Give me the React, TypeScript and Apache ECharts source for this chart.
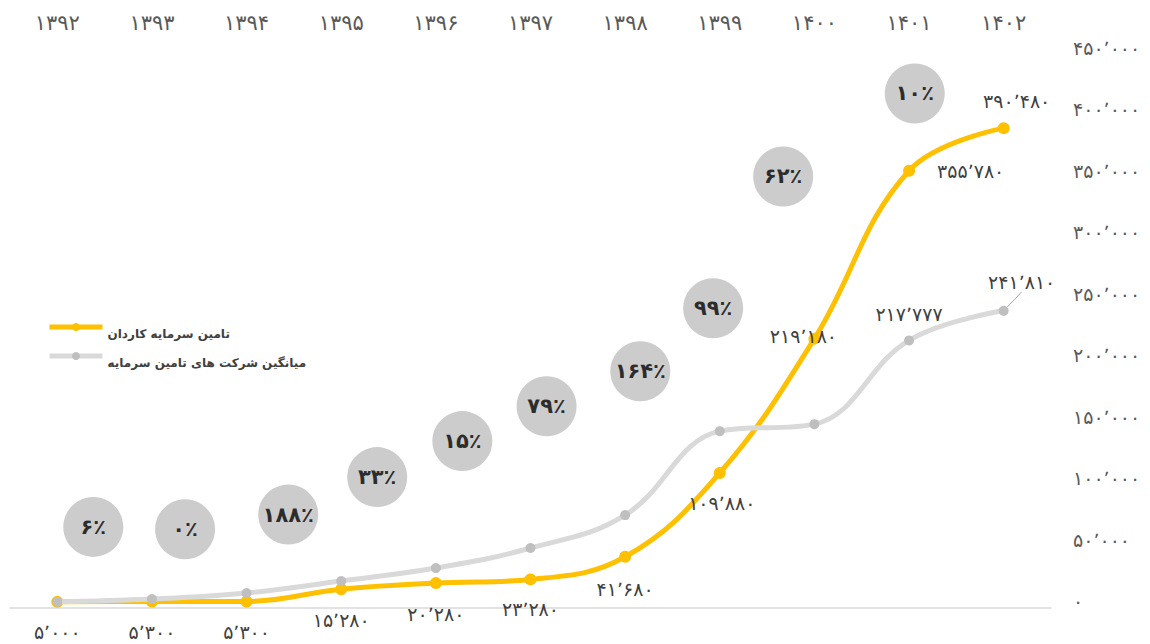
import React, { useEffect, useRef } from 'react';
import * as echarts from 'echarts';

const FONT = '"DejaVu Sans", "Noto Sans", sans-serif';

const years = ['۱۳۹۲', '۱۳۹۳', '۱۳۹۴', '۱۳۹۵', '۱۳۹۶', '۱۳۹۷', '۱۳۹۸', '۱۳۹۹', '۱۴۰۰', '۱۴۰۱', '۱۴۰۲'];
const kardanName = 'تامین سرمایه کاردان';
const averageName = 'میانگین شرکت های تامین سرمایه';
const kardanValues = [5000, 5300, 5300, 15280, 20280, 23280, 41680, 109880, 219180, 355780, 390480];
const averageValues = [5000, 7300, 12200, 22000, 32500, 48800, 75600, 143900, 149600, 217777, 241810];
const growthPercents = [6, 0, 188, 33, 15, 79, 164, 99, 62, 10];
const yMin = 0;
const yMax = 450000;
const yInterval = 50000;

// annotation anchors for the growth bubbles: [category position, value]
const bubbleAnchors = [
  [0.38, 66000], [1.35, 64000], [2.44, 76000], [3.38, 106500], [4.28, 135800],
  [5.17, 164200], [6.16, 192700], [6.93, 243900], [7.67, 351200], [9.06, 418700],
];

const toFa = (s: string) => s.replace(/\d/g, (d) => '۰۱۲۳۴۵۶۷۸۹'[+d]);
const fmt = (v: number) => toFa(String(v).replace(/\B(?=(\d{3})+(?!\d))/g, '٬'));

const labelBase = { show: true, color: '#404040', fontSize: 19, fontFamily: FONT, formatter: (p: any) => fmt(p.value) };

const kardanLabels: any[] = [
  { position: 'bottom', distance: 15 },
  { position: 'bottom', distance: 15 },
  { position: 'bottom', distance: 15 },
  { position: 'bottom', distance: 15 },
  { position: 'bottom', distance: 15 },
  { position: 'bottom', distance: 14 },
  { position: 'bottom', distance: 17 },
  { position: 'bottom', distance: 15, offset: [2, 0] },
  { position: 'inside', offset: [-11, -3] },
  { position: 'right', distance: 22 },
  { position: 'top', distance: 12, offset: [13, 0] },
];

export default function App() {
  const ref = useRef<HTMLDivElement>(null);
  useEffect(() => {
    if (!ref.current) return;
    const chart = echarts.init(ref.current, null, { renderer: 'svg' });
    chart.setOption({
      animation: false,
      backgroundColor: '#ffffff',
      textStyle: { fontFamily: FONT },
      grid: { left: 10, right: 99, top: 55, bottom: 36, containLabel: false },
      legend: {
        data: [kardanName, averageName],
        orient: 'vertical',
        left: 42,
        top: 309,
        itemWidth: 53,
        itemHeight: 10,
        itemGap: 3,
        lineStyle: { width: 5 },
        formatter: (name: string) => '\n' + name,
        textStyle: {
          fontWeight: 'bold',
          fontSize: 12,
          color: '#404040',
          fontFamily: FONT,
          lineHeight: 13,
        },
      },
      xAxis: [
        {
          type: 'category',
          data: years,
          position: 'bottom',
          axisLine: { show: true, lineStyle: { color: '#d9d9d9', width: 1.5 } },
          axisTick: { show: false },
          axisLabel: { show: false },
          splitLine: { show: false },
        },
        {
          type: 'category',
          data: years,
          position: 'top',
          axisLine: { show: false },
          axisTick: { show: false },
          axisLabel: { show: true, color: '#595959', fontSize: 21, margin: 22, fontFamily: FONT },
          splitLine: { show: false },
        },
        { type: 'value', min: -0.5, max: 10.5, show: false },
      ],
      yAxis: {
        type: 'value',
        position: 'right',
        min: yMin,
        max: yMax,
        interval: yInterval,
        axisLine: { show: false },
        axisTick: { show: false },
        splitLine: { show: false },
        axisLabel: {
          color: '#595959',
          fontSize: 19,
          margin: 22,
          fontFamily: FONT,
          formatter: (v: number) => fmt(v),
          verticalAlign: 'bottom',
          lineHeight: 14,
        },
      },
      series: [
        {
          name: 'growth',
          type: 'scatter',
          xAxisIndex: 2,
          symbol: 'circle',
          symbolSize: 60,
          itemStyle: { color: '#bfbfbf' },
          label: { show: true, position: 'inside', color: '#000', fontWeight: 'bold', fontSize: 21, fontFamily: FONT },
          data: bubbleAnchors.map((p, i) => ({ value: p, label: { formatter: toFa(growthPercents[i] + '٪') } })),
          z: 1,
        },
        {
          name: kardanName,
          type: 'line',
          xAxisIndex: 0,
          smooth: 0.4,
          symbol: 'circle',
          symbolSize: 12,
          lineStyle: { color: '#FFC000', width: 5 },
          itemStyle: { color: '#FFC000' },
          data: kardanValues.map((v, i) => ({ value: v, label: { ...labelBase, ...kardanLabels[i] } })),
          z: 3,
        },
        {
          name: averageName,
          type: 'line',
          xAxisIndex: 0,
          smooth: 0.4,
          symbol: 'circle',
          symbolSize: 10,
          lineStyle: { color: '#D9D9D9', width: 5 },
          itemStyle: { color: '#BFBFBF' },
          labelLayout: (params: any) => (params.dataIndex === 10 ? { dx: 18, dy: -9 } : {}),
          data: averageValues.map((v, i) => {
            if (i === 9) return { value: v, label: { ...labelBase, position: 'top', distance: 12, offset: [-15, 0] } };
            if (i === 10)
              return {
                value: v,
                label: { ...labelBase, position: 'top', distance: 5 },
                labelLine: { show: true, lineStyle: { color: '#a6a6a6', width: 1 } },
              };
            return { value: v };
          }),
          z: 4,
        },
      ],
    });
    return () => chart.dispose();
  }, []);
  return <div ref={ref} style={{ position: 'absolute', left: 0, top: 0, width: 1150, height: 644 }} />;
}
